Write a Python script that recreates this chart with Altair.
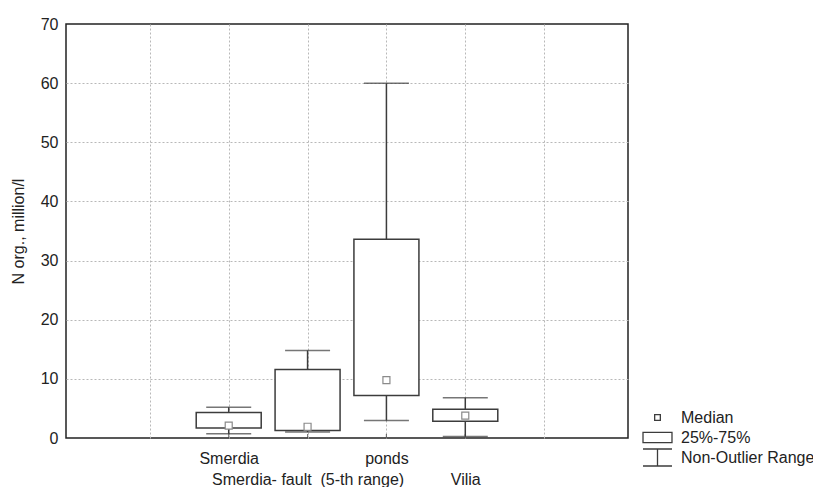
import altair as alt
import pandas as pd

# ---- data ----
sites = ["Smerdia", "Smerdia- fault \u00a0(5-th range)", "ponds", "Vilia"]
positions = [2, 3, 4, 5]
q1 = [1.7, 1.25, 7.2, 2.85]
q3 = [4.3, 11.6, 33.6, 4.85]
whisk_lo = [0.7, 1.0, 2.95, 0.25]
whisk_hi = [5.2, 14.8, 60.0, 6.8]
medians = [2.1, 1.9, 9.8, 3.8]
y_ticks = [0, 10, 20, 30, 40, 50, 60, 70]
x_grid = [1, 2, 3, 4, 5, 6]

legend_items = ["Median", "25%-75%", "Non-Outlier Range"]
legend_shapes = [
    "M-0.27,-0.27H0.27V0.27H-0.27Z",
    "M-1.38,-0.48H1.38V0.48H-1.38Z",
    "M-1.38,-0.81H1.38M0,-0.81V0.81M-1.38,0.81H1.38",
]

df = pd.DataFrame({
    "site": sites, "pos": positions, "q1": q1, "q3": q3,
    "lo": whisk_lo, "hi": whisk_hi, "med": medians,
})
leg_df = pd.DataFrame({"item": legend_items})

FONT = "Liberation Sans"
INK = "#3c3c3c"

# label expression: second and fourth labels on a lower row
parts = []
for i, (p, s) in enumerate(zip(positions, sites)):
    if i % 2 == 0:
        parts.append(f"datum.value == {p} ? '{s}'")
    else:
        parts.append(f"datum.value == {p} ? ['', '{s}']")
label_expr = " : ".join(parts) + " : ''"

x_axis = alt.Axis(
    values=x_grid, labelExpr=label_expr, ticks=False, domain=False,
    grid=True, gridDash=[2, 2], gridColor="#b8b8b8", gridWidth=1,
    labelPadding=12, labelLineHeight=21, labelOverlap=False, labelBound=False,
    labelFlush=False, labelLimit=0, title=None,
)
y_axis = alt.Axis(
    values=y_ticks, ticks=False, domain=False, grid=True, gridDash=[2, 2],
    gridColor="#b8b8b8", gridWidth=1,
    gridOpacity={"condition": {"test": "datum.value == 0 || datum.value == 70", "value": 0}, "value": 1},
    labelPadding=8, title="N org., million/l", titlePadding=14,
)
xs = alt.Scale(domain=[0, 7], nice=False, zero=False)
ys = alt.Scale(domain=[0, 70], nice=False, zero=False)

base = alt.Chart(df)

whisk = base.mark_rule(color=INK, strokeWidth=1.5).encode(
    x=alt.X("pos:Q", scale=xs, axis=x_axis),
    y=alt.Y("lo:Q", scale=ys, axis=y_axis),
    y2="hi:Q",
)
cap_hi = base.mark_tick(orient="horizontal", size=45, thickness=1.5, color=INK).encode(
    x=alt.X("pos:Q", scale=xs, axis=x_axis),
    y=alt.Y("hi:Q", scale=ys, axis=y_axis),
)
cap_lo = base.mark_tick(orient="horizontal", size=45, thickness=1.5, color=INK).encode(
    x=alt.X("pos:Q", scale=xs, axis=x_axis),
    y=alt.Y("lo:Q", scale=ys, axis=y_axis),
)
box = base.mark_bar(size=65, fill="white", stroke=INK, strokeWidth=1.5).encode(
    x=alt.X("pos:Q", scale=xs, axis=x_axis),
    y=alt.Y("q1:Q", scale=ys, axis=y_axis),
    y2="q3:Q",
)
med = base.mark_square(size=49, fill="white", stroke="#8a8a8a", strokeWidth=1.2, opacity=1).encode(
    x=alt.X("pos:Q", scale=xs, axis=x_axis),
    y=alt.Y("med:Q", scale=ys, axis=y_axis),
)
inticks = base.mark_tick(orient="vertical", size=4, thickness=1.2, color=INK, yOffset=-2).encode(
    x=alt.X("pos:Q", scale=xs, axis=x_axis),
    y=alt.Y("zero:Q", scale=ys, axis=y_axis),
).transform_calculate(zero="0")

leg = alt.Chart(leg_df).mark_point(filled=False, color=INK, strokeWidth=1.3, opacity=1).encode(
    shape=alt.Shape(
        "item:N",
        scale=alt.Scale(domain=legend_items, range=legend_shapes),
        legend=alt.Legend(
            title=None, orient="none", legendX=580, legendY=382, direction="vertical",
            symbolSize=441, symbolStrokeColor=INK, symbolFillColor="white",
            symbolStrokeWidth=1.3, symbolOpacity=1, labelFont=FONT, labelFontSize=16,
            labelColor="#222", labelOffset=12, rowPadding=0, padding=0,
        ),
    ),
).transform_filter("false")

chart = alt.layer(whisk, cap_hi, cap_lo, box, med, inticks, leg).properties(
    width=562, height=414,
    autosize=alt.AutoSizeParams(type="none"),
    padding={"left": 66, "top": 24, "right": 185, "bottom": 49},
    background="white",
).configure_view(
    stroke="#222", strokeWidth=1.5,
).configure_axis(
    labelFont=FONT, labelFontSize=16, labelColor="#222",
    titleFont=FONT, titleFontSize=16, titleColor="#222", titleFontWeight="normal",
)

chart.save("out.html", embed_options={"renderer": "svg", "actions": False})
